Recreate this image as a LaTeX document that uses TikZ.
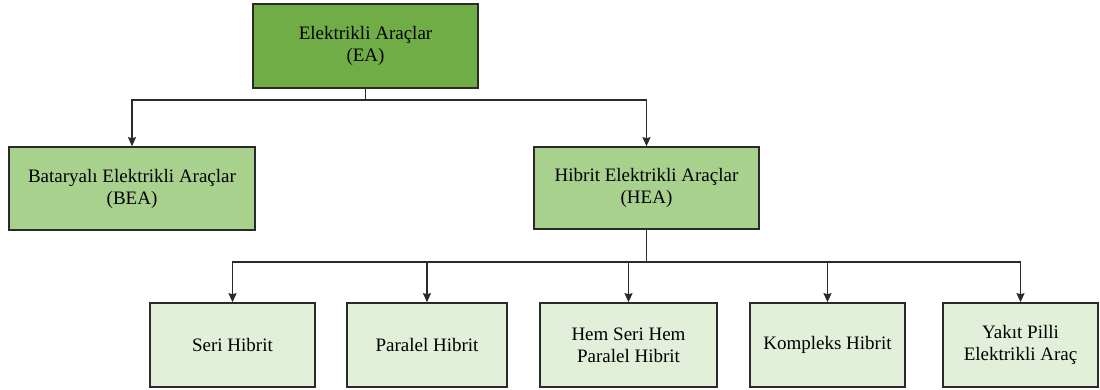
\documentclass[tikz,border=0pt]{standalone}
\usepackage{fontspec}
\setmainfont{Liberation Serif}
\usetikzlibrary{arrows.meta}
\definecolor{gtop}{HTML}{70AD47}
\definecolor{gmid}{HTML}{A9D18E}
\definecolor{gbot}{HTML}{E2F0D9}
\definecolor{edge}{HTML}{2A2A2A}
\begin{document}
\begin{tikzpicture}[x=1pt,y=-1pt,
  box/.style={draw=edge,line width=1.6pt,rectangle,inner sep=0pt,align=center,
    font=\fontsize{19}{22}\selectfont,text=black},
  conn/.style={draw=edge,line width=1.5pt},
  arr/.style={conn,-{Stealth[length=9pt,width=8pt,inset=1pt]}}]
\useasboundingbox (0,0) rectangle (1100,390);
\node[box,fill=gtop,minimum width=225pt,minimum height=84pt] (ea) at (365.5,46) {Elektrikli Araçlar\\(EA)};
\node[box,fill=gmid,minimum width=246pt,minimum height=83pt] (bea) at (132,188.5) {Bataryalı Elektrikli Araçlar\\(BEA)};
\node[box,fill=gmid,minimum width=225pt,minimum height=82pt] (hea) at (646.5,188) {Hibrit Elektrikli Araçlar\\(HEA)};
\node[box,fill=gbot,minimum width=165pt,minimum height=84pt] (seri) at (232.5,345) {Seri Hibrit};
\node[box,fill=gbot,minimum width=160pt,minimum height=84pt] (par) at (427,345) {Paralel Hibrit};
\node[box,fill=gbot,minimum width=177pt,minimum height=84pt] (hem) at (628.5,345) {Hem Seri Hem\\Paralel Hibrit};
\node[box,fill=gbot,minimum width=155pt,minimum height=84pt] (komp) at (827.5,345) {Kompleks Hibrit};
\node[box,fill=gbot,minimum width=155pt,minimum height=84pt] (yak) at (1020.5,345) {Yakıt Pilli\\Elektrikli Araç};
\coordinate (j1) at (365.5,100);
\coordinate (j2) at (646.5,262);
\draw[conn] (ea.south) -- (j1);
\draw[arr] (j1) -| (bea.north);
\draw[arr] (j1) -| (hea.north);
\draw[conn] (hea.south) -- (j2);
\draw[arr] (j2) -| (seri.north);
\draw[arr] (j2) -| (par.north);
\draw[arr] (j2) -| (hem.north);
\draw[arr] (j2) -| (komp.north);
\draw[arr] (j2) -| (yak.north);
\end{tikzpicture}
\end{document}
